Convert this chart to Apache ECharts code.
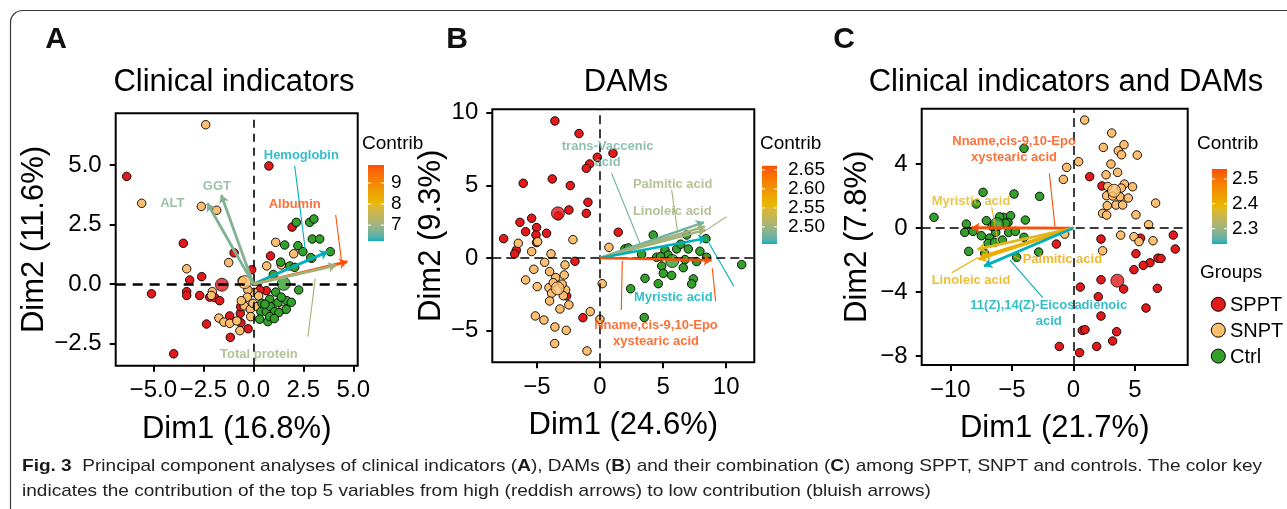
<!DOCTYPE html>
<html><head><meta charset="utf-8">
<script src="https://cdn.jsdelivr.net/npm/echarts@6/dist/echarts.min.js"></script>
<style>html,body{margin:0;padding:0;background:#fff}#c{width:1287px;height:509px}</style>
</head><body><div id="c"></div>
<script>
const FONT = '"Liberation Sans", Arial, sans-serif';
const groupNames = ['SPPT', 'SNPT', 'Ctrl'];
const groupColors = ['#E31A1C', '#FDBF6F', '#33A02C'];
const gradientCols = ['#00AFBB', '#E7B800', '#FC4E07'];

// ---------- Panel A : Clinical indicators ----------
const aSPPT = [[-6.33,4.52],[0.78,4.96],[-3.50,1.71],[-0.96,1.31],[0.86,1.18],[1.94,2.39],[-0.08,0.60],[-2.58,0.31],[-3.18,0.17],[-5.09,-0.41],[-3.33,-0.32],[-3.33,-0.48],[-2.68,-0.48],[-2.18,-0.55],[-1.93,-0.57],[-1.68,-0.70],[-2.34,-1.68],[-1.18,-1.34],[-0.65,-1.23],[-0.26,-1.88],[-1.15,-2.24],[-3.98,-2.93],[0.65,-0.28],[0.32,-0.25],[-0.62,-1.63],[-0.63,-0.95]];
const aSNPT = [[-2.38,6.69],[-5.58,3.39],[-2.60,3.26],[-1.83,3.10],[1.12,1.75],[2.02,1.27],[-1.23,0.90],[0.67,0.76],[1.40,0.80],[-3.33,0.64],[-0.56,0.14],[-2.05,-0.32],[-2.10,-0.48],[-1.72,-1.43],[-1.47,-1.60],[-1.18,-1.65],[-0.82,-1.55],[-0.67,-1.96],[-0.45,-0.92],[-0.15,-1.06],[-0.02,-0.81],[0.05,-0.36],[0.27,-0.50],[-0.27,-0.25],[1.48,-1.06],[-0.13,-1.37],[-0.30,-0.55],[0.20,-0.95],[-0.60,-0.70],[2.92,1.08]];
const aCtrl = [[2.15,2.59],[2.82,2.59],[3.03,2.73],[2.95,1.89],[3.32,1.89],[1.57,1.64],[2.23,1.61],[2.48,1.36],[2.87,1.11],[3.85,1.36],[1.37,0.92],[1.82,0.76],[2.07,0.70],[2.27,-0.25],[1.12,-0.34],[0.82,-0.64],[1.23,-0.78],[1.68,-0.70],[1.90,-0.77],[0.43,-0.81],[0.38,-1.16],[0.65,-1.16],[0.85,-0.95],[1.07,-1.16],[1.28,-1.20],[1.65,-1.06],[0.32,-1.48],[0.73,-1.58],[0.82,-1.37],[1.05,-1.45],[1.40,-0.55],[0.58,-0.85],[1.00,0.40]];
const aMeans = [[-1.57,-0.03],[-0.43,0.08],[1.52,0.01]];
const aVarNames = ['ALT', 'GGT', 'Hemoglobin', 'Albumin', 'Total protein'];
const aVarX = [-2.30, -1.60, 3.73, 4.70, 4.15];
const aVarY = [3.39, 3.74, 1.36, 0.94, 0.78];
const aVarContrib = [6.73, 6.76, 6.24, 9.86, 7.07];
const aLabelX = [-4.05, -1.82, 2.40, 2.07, 0.28];
const aLabelY = [3.39, 4.12, 5.42, 3.35, -2.94];
const aLeaderVar = [2, 3, 4];
const aLeaderFrom = [[2.07,4.96],[4.12,2.90],[2.73,-2.21]];
const aLeaderTo = [[2.60,1.43],[4.40,1.04],[3.10,0.24]];
const aXTicks = [-5, -2.5, 0, 2.5, 5];
const aYTicks = [-2.5, 0, 2.5, 5];
const aBarTicks = [7, 8, 9];

// ---------- Panel B : DAMs ----------
const bSPPT = [[-3.57,9.43],[-1.66,8.56],[-0.21,6.93],[1.03,7.20],[-0.82,6.47],[-1.08,6.17],[-6.08,5.14],[-3.78,5.44],[-2.35,4.98],[-0.95,3.83],[-2.46,3.30],[-1.08,3.07],[-5.41,2.73],[-6.34,2.45],[-5.02,2.09],[-5.89,1.81],[-4.23,1.70],[-5.07,1.58],[-7.63,1.33],[1.45,1.77],[-6.63,0.53],[-6.76,0.28],[-1.98,-0.23],[-2.64,-2.61],[-1.35,-4.11],[-5.02,1.06],[-3.30,2.90]];
const bSNPT = [[-6.47,1.01],[-4.94,1.12],[-5.41,0.44],[-2.14,1.26],[-3.88,0.28],[-4.38,-0.30],[-2.77,-0.48],[-5.24,-0.78],[-3.99,-0.94],[-5.89,-1.51],[-4.97,-1.97],[-4.04,-2.04],[-3.51,-1.35],[-2.83,-1.17],[-3.83,-2.43],[-2.72,-2.20],[-3.99,-2.96],[-3.17,-3.51],[-2.46,-3.23],[-5.12,-3.99],[-4.44,-4.27],[-3.57,-4.75],[-2.67,-4.98],[-3.59,-5.89],[-1.03,-6.40],[-0.77,-3.69],[0.00,-4.22],[0.18,-1.77],[0.71,0.73],[-3.00,-1.80],[-3.70,-1.70],[-2.90,-2.60]];
const bCtrl = [[4.22,1.58],[6.87,1.58],[1.98,0.62],[2.25,0.69],[5.15,0.55],[6.08,0.62],[7.00,0.62],[7.92,0.46],[8.40,1.33],[4.49,0.05],[7.66,-0.25],[8.45,0.05],[11.23,-0.46],[4.89,-0.55],[5.02,-1.06],[5.68,-1.20],[6.60,-0.67],[6.74,-0.11],[7.40,-1.44],[7.27,-1.79],[3.57,-1.40],[4.62,-1.77],[2.43,-2.12],[3.51,-4.10],[3.30,0.25],[5.40,0.20],[6.40,0.95],[4.80,0.10]];
const bMeans = [[-3.33,3.07],[-3.35,-2.09],[5.73,-0.21]];
const bVarNames = ['trans-Vaccenic\nacid', 'Palmitic acid', 'Linoleic acid', 'Myristic acid', 'Nname,cis-9,10-Epo\nxystearic acid'];
const bVarX = [8.24, 8.32, 8.37, 8.43, 8.85];
const bVarY = [2.45, 2.16, 1.93, 1.35, -0.16];
const bVarContrib = [2.476, 2.503, 2.50, 2.455, 2.661];
const bLabelX = [0.61, 5.76, 5.73, 5.81, 4.44];
const bLabelY = [7.13, 5.07, 3.19, -2.73, -5.18];
const bLeaderVar = [0, 1, 2, 3, 4, 4];
const bLeaderFrom = [[0.92,5.83],[5.68,4.68],[10.01,2.84],[10.62,-1.97],[1.69,-3.58],[9.17,-3.00]];
const bLeaderTo = [[3.22,0.89],[6.13,1.93],[8.24,1.81],[8.50,1.24],[1.77,-0.21],[8.90,-0.71]];
const bXTicks = [-5, 0, 5, 10];
const bYTicks = [-5, 0, 5, 10];
const bBarTicks = [2.50, 2.55, 2.60, 2.65];

// ---------- Panel C : Clinical indicators and DAMs ----------
const cSPPT = [[1.33,3.21],[2.33,2.63],[2.25,-0.69],[5.47,-0.63],[8.13,-0.44],[8.29,-1.31],[5.09,-1.60],[6.88,-1.88],[7.13,-1.90],[6.23,-2.17],[5.69,-2.33],[4.93,-2.60],[2.25,-3.23],[4.09,-3.81],[6.83,-3.77],[0.57,-3.69],[2.03,-4.29],[5.91,-5.00],[2.25,-5.50],[0.73,-6.40],[0.95,-6.35],[3.52,-6.48],[3.20,-7.06],[1.90,-7.40],[-1.14,-7.40],[0.51,-7.79],[-1.38,-1.00]];
const cSNPT = [[0.92,6.75],[3.12,5.94],[2.44,5.04],[3.66,4.83],[4.12,5.21],[3.92,4.58],[5.20,4.56],[0.43,4.15],[-0.54,3.79],[-0.81,3.04],[3.06,4.00],[2.66,3.33],[3.60,3.48],[4.15,2.75],[4.82,2.58],[2.80,2.60],[2.71,2.02],[3.79,1.96],[4.47,1.88],[2.76,1.40],[3.47,1.44],[4.01,1.44],[6.69,1.56],[2.38,0.92],[2.71,0.81],[5.09,0.83],[6.12,0.21],[3.85,-0.44],[4.93,-0.54],[5.34,-0.85],[6.48,-0.79],[2.38,-1.42],[-0.70,-0.38],[3.90,2.50],[3.20,2.00]];
const cCtrl = [[-11.33,0.67],[-4.01,4.98],[-7.34,2.23],[-4.82,2.13],[-2.74,1.98],[-7.89,1.50],[-8.70,0.25],[-8.83,-0.27],[-8.16,-0.21],[-7.48,-0.48],[-7.07,0.46],[-5.66,0.67],[-5.10,0.77],[-5.31,0.35],[-3.90,0.50],[-6.80,-0.63],[-6.94,-0.96],[-6.31,-0.27],[-5.77,-0.75],[-5.26,-0.27],[-4.72,-0.21],[-4.01,-0.58],[-8.51,-1.46],[-7.21,-1.58],[-4.61,-1.83],[-2.82,-1.50],[-6.40,-0.90],[-6.00,0.70],[-5.50,0.30],[-6.60,0.10]];
const cMeans = [[3.58,-3.29],[3.31,2.33],[-6.21,0.25]];
const cVarNames = ['Nname,cis-9,10-Epo\nxystearic acid', 'Myristic acid', 'Palmitic acid', 'Linoleic acid', '11(Z),14(Z)-Eicosadienoic\nacid'];
const cVarX = [-8.27, -7.80, -7.45, -7.72, -7.26];
const cVarY = [0.02, -1.33, -1.79, -1.96, -2.38];
const cVarContrib = [2.54, 2.38, 2.42, 2.405, 2.238];
const cLabelX = [-4.82, -8.32, -0.89, -8.32, -2.00];
const cLabelY = [4.94, 1.65, -1.96, -3.25, -5.35];
const cLeaderVar = [0, 1, 2, 3, 4];
const cLeaderFrom = [[-1.95,3.42],[-6.64,1.29],[-4.82,-1.75],[-9.89,-2.79],[-2.49,-4.35]];
const cLeaderTo = [[-1.49,0.08],[-6.10,-0.96],[-4.28,-1.96],[-7.72,-1.83],[-5.15,-2.00]];
const cXTicks = [-10, -5, 0, 5];
const cYTicks = [-8, -4, 0, 4];
const cBarTicks = [2.3, 2.4, 2.5];

const titles = ['Clinical indicators', 'DAMs', 'Clinical indicators and DAMs'];
const letters = ['A', 'B', 'C'];
const xNames = ['Dim1 (16.8%)', 'Dim1 (24.6%)', 'Dim1 (21.7%)'];
const yNames = ['Dim2 (11.6%)', 'Dim2 (9.3%)', 'Dim2 (7.8%)'];
const caption1 = ['Fig. 3', '  Principal component analyses of clinical indicators (', 'A', '), DAMs (', 'B', ') and their combination (', 'C', ') among SPPT, SNPT and controls. The color key'];
const caption2 = 'indicates the contribution of the top 5 variables from high (reddish arrows) to low contribution (bluish arrows)';

// ---------- colour scale (Lab interpolation like ggplot) ----------
function hexToRgb(h){return [1,3,5].map(i=>parseInt(h.slice(i,i+2),16));}
function toLin(c){c/=255;return c<=0.04045?c/12.92:Math.pow((c+0.055)/1.055,2.4);}
function fromLin(c){const v=c<=0.0031308?12.92*c:1.055*Math.pow(c,1/2.4)-0.055;return Math.round(Math.max(0,Math.min(1,v))*255);}
function rgbToLab(rgb){const r=toLin(rgb[0]),g=toLin(rgb[1]),b=toLin(rgb[2]);
  const X=(0.4124564*r+0.3575761*g+0.1804375*b)/0.95047,Y=(0.2126729*r+0.7151522*g+0.0721750*b),Z=(0.0193339*r+0.1191920*g+0.9503041*b)/1.08883;
  const f=t=>t>0.008856?Math.cbrt(t):7.787*t+16/116;const fx=f(X),fy=f(Y),fz=f(Z);
  return [116*fy-16,500*(fx-fy),200*(fy-fz)];}
function labToRgb(lab){const fy=(lab[0]+16)/116,fx=fy+lab[1]/500,fz=fy-lab[2]/200;
  const fi=t=>{const t3=t*t*t;return t3>0.008856?t3:(t-16/116)/7.787;};
  const X=fi(fx)*0.95047,Y=fi(fy),Z=fi(fz)*1.08883;
  const r=3.2404542*X-1.5371385*Y-0.4985314*Z,g=-0.9692660*X+1.8760108*Y+0.0415560*Z,b=0.0556434*X-0.2040259*Y+1.0572252*Z;
  return 'rgb('+fromLin(r)+','+fromLin(g)+','+fromLin(b)+')';}
const labStops = gradientCols.map(h=>rgbToLab(hexToRgb(h)));
function gradColor(t){t=Math.max(0,Math.min(1,t));const s=t*(labStops.length-1);const i=Math.min(labStops.length-2,Math.floor(s));const u=s-i;
  const A=labStops[i],B=labStops[i+1];return labToRgb([0,1,2].map(k=>A[k]+(B[k]-A[k])*u));}

// ---------- layout (pixels) ----------
const panels = [
  {pts:[aSPPT,aSNPT,aCtrl],means:aMeans,vn:aVarNames,vx:aVarX,vy:aVarY,vc:aVarContrib,lx:aLabelX,ly:aLabelY,ldv:aLeaderVar,ldf:aLeaderFrom,ldt:aLeaderTo,xt:aXTicks,yt:aYTicks,bt:aBarTicks,dig:1,bdig:0,
   grid:{left:115.7,top:113.3,width:242,height:252.4},xr:[-6.88,5.22],yr:[-3.43,7.17],yGap:62,bar:{x:368,y:165,w:16,h:76,gap:7},contribX:362,
   hLine:{width:2.6,type:[10,7]},vLine:{width:1.6,type:[8,6]},arrowW:2.8,titleX:234,letterX:56},
  {pts:[bSPPT,bSNPT,bCtrl],means:bMeans,vn:bVarNames,vx:bVarX,vy:bVarY,vc:bVarContrib,lx:bLabelX,ly:bLabelY,ldv:bLeaderVar,ldf:bLeaderFrom,ldt:bLeaderTo,xt:bXTicks,yt:bYTicks,bt:bBarTicks,dig:0,bdig:2,
   grid:{left:492.3,top:109.3,width:262,height:253},xr:[-8.53,12.23],yr:[-7.18,10.23],yGap:37,bar:{x:762,y:165.7,w:15,h:78.3,gap:11},contribX:760,
   hLine:{width:1.5,type:[9,5]},vLine:{width:1.5,type:[9,5]},arrowW:2.5,titleX:626,letterX:457},
  {pts:[cSPPT,cSNPT,cCtrl],means:cMeans,vn:cVarNames,vx:cVarX,vy:cVarY,vc:cVarContrib,lx:cLabelX,ly:cLabelY,ldv:cLeaderVar,ldf:cLeaderFrom,ldt:cLeaderTo,xt:cXTicks,yt:cYTicks,bt:cBarTicks,dig:0,bdig:1,
   grid:{left:921.7,top:108.7,width:266,height:256.3},xr:[-12.33,9.3],yr:[-8.56,7.46],yGap:49,bar:{x:1212,y:169,w:15,h:75,gap:5},contribX:1197,
   hLine:{width:1.5,type:[9,5]},vLine:{width:1.5,type:[9,5]},arrowW:2.8,titleX:1066,letterX:844}
];

function fmt(d){return v=>(v<0?'\u2212':'')+Math.abs(v).toFixed(d);}

const grids=[],xAxes=[],yAxes=[],series=[],graphics=[];
panels.forEach((P,i)=>{
  grids.push(Object.assign({show:true,borderColor:'#000',borderWidth:2,backgroundColor:'transparent'},P.grid));
  const axCommon = {type:'value',gridIndex:i,splitLine:{show:false},axisLine:{show:false,onZero:false},
    nameLocation:'middle',nameTextStyle:{fontSize:31,color:'#000',fontFamily:FONT}};
  xAxes.push(Object.assign({},axCommon,{min:P.xr[0],max:P.xr[1],name:xNames[i],nameGap:48,
    axisTick:{show:true,customValues:P.xt,length:6,lineStyle:{color:'#000',width:2}},
    axisLabel:{customValues:P.xt,formatter:fmt(P.dig),fontSize:24,color:'#000',margin:13,fontFamily:FONT}}));
  yAxes.push(Object.assign({},axCommon,{min:P.yr[0],max:P.yr[1],name:yNames[i],nameGap:P.yGap,
    axisTick:{show:true,customValues:P.yt,length:6,lineStyle:{color:'#000',width:2}},
    axisLabel:{customValues:P.yt,formatter:fmt(P.dig),fontSize:24,color:'#000',margin:14,fontFamily:FONT}}));
  const ax={xAxisIndex:i,yAxisIndex:i};
  // dashed reference lines
  series.push(Object.assign({type:'scatter',data:[],silent:true,z:1,markLine:{silent:true,symbol:'none',label:{show:false},animation:false,
    data:[{xAxis:0,lineStyle:{color:'#000',width:P.vLine.width,type:P.vLine.type}},{yAxis:0,lineStyle:{color:'#000',width:P.hLine.width,type:P.hLine.type}}]}},ax));
  // individuals
  P.pts.forEach((pts,g)=>{
    series.push(Object.assign({type:'scatter',name:groupNames[g],data:pts,symbolSize:8.5,z:2,
      itemStyle:{color:groupColors[g],borderColor:'#000',borderWidth:0.9,opacity:1}},ax));
  });
  // group means
  series.push(Object.assign({type:'scatter',z:3,symbolSize:13,
    data:P.means.map((m,g)=>({value:m,itemStyle:{color:groupColors[g],borderColor:'#000',borderWidth:0.9}}))},ax));
  const lo=Math.min(...P.vc),hi=Math.max(...P.vc);
  const vcol=P.vc.map(c=>gradColor((c-lo)/(hi-lo)));
  // leaders
  series.push(Object.assign({type:'lines',coordinateSystem:'cartesian2d',z:4,symbol:'none',silent:true,
    data:P.ldv.map((v,k)=>({coords:[P.ldf[k],P.ldt[k]],lineStyle:{color:vcol[v],width:1.1,opacity:1}}))},ax));
  // arrows
  series.push(Object.assign({type:'lines',coordinateSystem:'cartesian2d',z:5,symbol:['none','arrow'],symbolSize:8,silent:true,
    data:P.vx.map((x,k)=>({coords:[[0,0],[x,P.vy[k]]],lineStyle:{color:vcol[k],width:P.arrowW,opacity:1}}))},ax));
  // variable labels
  series.push(Object.assign({type:'scatter',z:6,symbolSize:1,itemStyle:{color:'rgba(0,0,0,0)'},silent:true,
    data:P.vn.map((n,k)=>({value:[P.lx[k],P.ly[k]],name:n,label:{show:true,position:'inside',formatter:n,color:vcol[k],
      fontSize:13,fontWeight:'bold',fontFamily:FONT,lineHeight:16,align:'center',verticalAlign:'middle'}}))},ax));
  // titles
  graphics.push({type:'text',x:P.titleX,y:82,style:{text:titles[i],font:'31px '+FONT,fill:'#000',textAlign:'center',textVerticalAlign:'middle'}});
  graphics.push({type:'text',x:P.letterX,y:40,style:{text:letters[i],font:'bold 30px '+FONT,fill:'#111',textAlign:'center',textVerticalAlign:'middle'}});
  // colour bar
  graphics.push({type:'text',x:P.contribX,y:144,style:{text:'Contrib',font:'19px '+FONT,fill:'#000',textVerticalAlign:'middle'}});
  const B=P.bar,stops=[];
  for(let s=0;s<=30;s++){stops.push({offset:s/30,color:gradColor(s/30)});}
  graphics.push({type:'rect',shape:{x:B.x,y:B.y,width:B.w,height:B.h},style:{fill:{type:'linear',x:0,y:1,x2:0,y2:0,colorStops:stops}}});
  P.bt.forEach(v=>{
    const yy=B.y+B.h*(1-(v-lo)/(hi-lo));
    graphics.push({type:'line',shape:{x1:B.x,y1:yy,x2:B.x+B.w/5,y2:yy},style:{stroke:'#fff',lineWidth:1}});
    graphics.push({type:'line',shape:{x1:B.x+B.w*4/5,y1:yy,x2:B.x+B.w,y2:yy},style:{stroke:'#fff',lineWidth:1}});
    graphics.push({type:'text',x:B.x+B.w+B.gap,y:yy,style:{text:v.toFixed(P.bdig),font:'19px '+FONT,fill:'#000',textVerticalAlign:'middle'}});
  });
});

// Groups legend (panel C)
graphics.push({type:'text',x:1200,y:273,style:{text:'Groups',font:'19px '+FONT,fill:'#000',textVerticalAlign:'middle'}});
groupNames.forEach((g,k)=>{
  const yy=304.3+k*25.9;
  graphics.push({type:'circle',shape:{cx:1218.3,cy:yy,r:7},style:{fill:groupColors[k],stroke:'#000',lineWidth:1}});
  graphics.push({type:'text',x:1230,y:yy+1,style:{text:g,font:'20px '+FONT,fill:'#000',textVerticalAlign:'middle'}});
});

// frame
graphics.push({type:'rect',shape:{x:10.5,y:10.5,width:1300,height:530,r:12},style:{fill:'none',stroke:'#3a3a3a',lineWidth:1.2}});

// caption
const capFont='17px '+FONT;
const cv=document.createElement('canvas').getContext('2d');
let w1=0;caption1.forEach((t,k)=>{cv.font=(k%2===0?'bold ':'')+capFont;w1+=cv.measureText(t).width;});
const sx=(1262-22)/w1;
const rich1=caption1.map((t,k)=>k%2===0?'{b|'+t+'}':'{n|'+t+'}').join('');
graphics.push({type:'text',x:22,y:466,scaleX:sx,style:{text:rich1,font:capFont,fill:'#222',textVerticalAlign:'middle',
  rich:{b:{fontWeight:'bold',fontSize:17,fontFamily:FONT,fill:'#1a1a1a'},n:{fontSize:17,fontFamily:FONT,fill:'#222'}}}});
graphics.push({type:'text',x:22,y:491,scaleX:sx,style:{text:caption2,font:capFont,fill:'#222',textVerticalAlign:'middle'}});

const chart=echarts.init(document.getElementById('c'),null,{renderer:'canvas'});
chart.setOption({animation:false,backgroundColor:'#fff',grid:grids,xAxis:xAxes,yAxis:yAxes,series:series,graphic:{elements:graphics}});
</script></body></html>
